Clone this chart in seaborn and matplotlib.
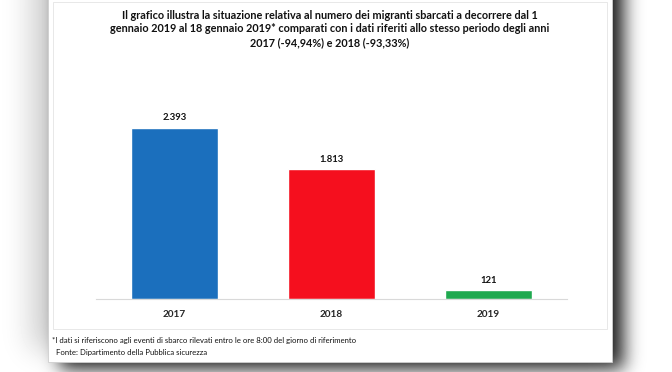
import math
import numpy as np
import matplotlib
matplotlib.use("Agg")
import matplotlib.pyplot as plt
import seaborn as sns

# dati (sbarchi 1-18 gennaio)
anni = ["2017", "2018", "2019"]
sbarchi = [2393, 1813, 121]
colori = ["#1b6fbd", "#f50f1e", "#1fa94f"]

titolo = ("Il grafico illustra la situazione relativa al numero dei migranti sbarcati a decorrere dal 1\n"
          "gennaio 2019 al 18 gennaio 2019* comparati con i dati riferiti allo stesso periodo degli anni\n"
          "2017 (-94,94%) e 2018 (-93,33%)")
nota = "*I dati si riferiscono agli eventi di sbarco rilevati entro le ore 8:00 del giorno di riferimento"
fonte = "Fonte: Dipartimento della Pubblica sicurezza"

W, H = 672, 372

sns.set_theme(style="white")
plt.rcParams["font.family"] = ["Lato", "DejaVu Sans"]

fig = plt.figure(figsize=(W / 100, H / 100), dpi=100)
fig.patch.set_facecolor("white")


def fx(px):
    return px / W


def fy(py):
    return 1 - py / H


# ombra della "scheda" (screenshot)
erf = np.vectorize(math.erf)


def soft_rect(x0, x1, y0, y1, s):
    xx = np.arange(W) + 0.5
    yy = np.arange(H) + 0.5
    gx = 0.5 * (erf((xx - x0) / (s * 1.414)) - erf((xx - x1) / (s * 1.414)))
    gy = 0.5 * (erf((yy - y0) / (s * 1.414)) - erf((yy - y1) / (s * 1.414)))
    return np.outer(gy, gx)


ombra = 0.85 * soft_rect(60, 624, -40, 369, 9) + 0.18 * soft_rect(30, 600, -40, 350, 14)
grigio = np.clip(1 - ombra, 0, 1)
bg = fig.add_axes([0, 0, 1, 1], zorder=-5)
bg.imshow(grigio, cmap="gray", vmin=0, vmax=1, extent=[0, W, H, 0], aspect="auto")
bg.set_xlim(0, W)
bg.set_ylim(H, 0)
bg.axis("off")

# scheda bianca e riquadro interno (coordinate in pixel)
bg.add_patch(plt.Rectangle((48, -5), 612 - 48, 362 + 5, facecolor="white",
                           edgecolor="#cfcfcf", linewidth=0.6))
bg.add_patch(plt.Rectangle((53, 2), 607 - 53, 329 - 2, facecolor="none",
                           edgecolor="#e4e4e4", linewidth=0.6))

bg.text(330, 29, titolo, ha="center", va="center", fontsize=7.8,
        fontweight="bold", linespacing=1.3, color="#111111")
bg.text(52, 340, nota, ha="left", va="center", fontsize=5.6, color="#111111")
bg.text(56, 353, fonte, ha="left", va="center", fontsize=5.6, color="#111111")

# grafico a barre
ax = fig.add_axes([fx(96), fy(299), fx(567 - 96), fy(100) - fy(299)])
sns.barplot(x=anni, y=sbarchi, hue=anni, palette=colori, saturation=1,
            width=0.55, legend=False, ax=ax)
ax.set_xlim(-0.5, 2.5)
ax.set_ylim(0, 2785)
ax.patch.set_alpha(0)
for s in ["top", "right", "left"]:
    ax.spines[s].set_visible(False)
ax.spines["bottom"].set_color("#d9d9d9")
ax.spines["bottom"].set_linewidth(0.8)
ax.set_yticks([])
ax.set_xlabel("")
ax.tick_params(axis="x", length=0, pad=8, labelsize=7.2)
for t in ax.get_xticklabels():
    t.set_fontweight("bold")
for c in ax.containers:
    ax.bar_label(c, labels=[f"{int(v):,}".replace(",", ".") for v in c.datavalues],
                 padding=4, fontsize=6.8, fontweight="bold", color="#111111")

fig.savefig("out.png", dpi=100)
